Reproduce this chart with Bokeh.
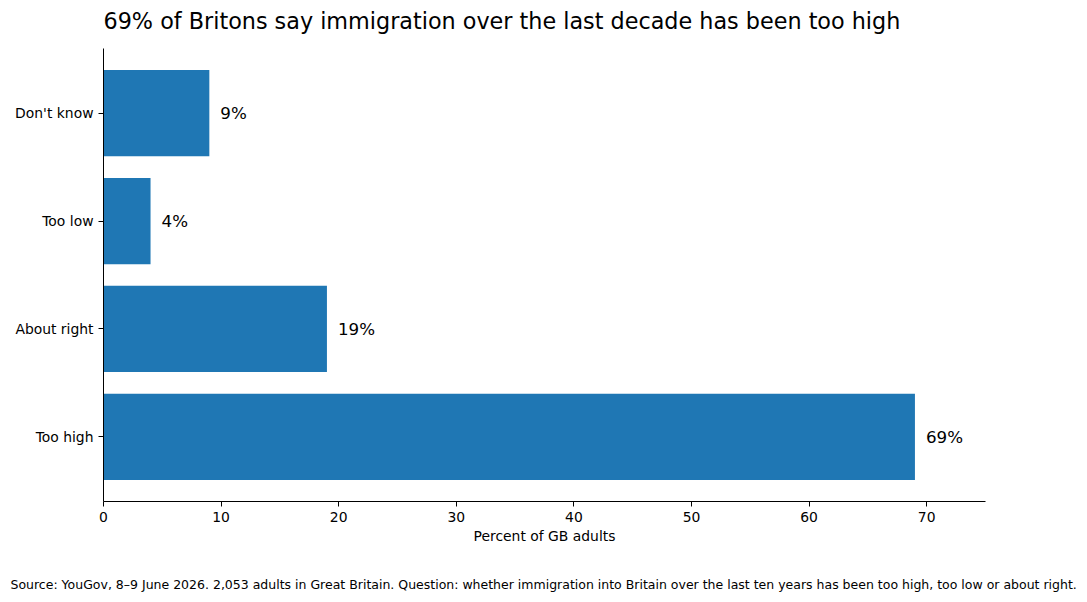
from bokeh.plotting import figure
from bokeh.models import FactorRange, Range1d, Title, ColumnDataSource
from bokeh.embed import file_html
from bokeh.resources import INLINE
from bokeh.core.properties import value

categories = ["Too high", "About right", "Too low", "Don't know"]
percents = [69, 19, 4, 9]
labels = ["69%", "19%", "4%", "9%"]
x_ticks = [0, 10, 20, 30, 40, 50, 60, 70]

title_text = "69% of Britons say immigration over the last decade has been too high"
source_text = ("Source: YouGov, 8\u20139 June 2026. 2,053 adults in Great Britain. Question: whether immigration "
               "into Britain over the last ten years has been too high, too low or about right.")

FONT = "DejaVu Sans"
BLUE = "#1f77b4"

src = ColumnDataSource(dict(cat=categories, val=percents, lab=labels))

p = figure(
    y_range=FactorRange(factors=categories, range_padding=0.05, range_padding_units="percent"),
    x_range=Range1d(0, 75),
    frame_width=882, frame_height=453,
    output_backend="svg", toolbar_location=None,
    min_border_left=103, min_border_right=94, min_border_top=48, min_border_bottom=97,
)

p.hbar(y="cat", right="val", left=0, height=0.8, source=src, color=BLUE, line_color=None)
p.text(x="val", y="cat", text="lab", source=src, x_offset=11,
       text_baseline="middle", text_align="left",
       text_font=value(FONT), text_font_size="16.7px", text_color="black")

p.outline_line_color = None
p.xgrid.grid_line_color = None
p.ygrid.grid_line_color = None

for ax in (p.xaxis, p.yaxis):
    ax.axis_line_color = "black"
    ax.axis_line_width = 1
    ax.major_tick_line_color = "black"
    ax.major_tick_out = 5
    ax.major_tick_in = 0
    ax.minor_tick_line_color = None
    ax.major_label_text_font = FONT
    ax.major_label_text_font_size = "13.9px"
    ax.major_label_text_color = "black"
    ax.major_label_standoff = 5

p.xaxis.ticker = x_ticks
p.xaxis.axis_label = "Percent of GB adults"
p.xaxis.axis_label_text_font = FONT
p.xaxis.axis_label_text_font_size = "13.9px"
p.xaxis.axis_label_text_font_style = "normal"
p.xaxis.axis_label_text_color = "black"
p.xaxis.axis_label_standoff = 3

# spacer between frame and title, then the title itself
p.add_layout(Title(text=" ", text_font_size="1px", standoff=7), "above")
p.add_layout(Title(text=title_text, align="left", standoff=10,
                   text_font=FONT, text_font_size="22.3px", text_font_style="normal",
                   text_color="black"), "above")

# spacer between x axis and source note, then the note
p.add_layout(Title(text=" ", text_font_size="1px", standoff=24), "below")
p.add_layout(Title(text=source_text, align="left", offset=-93, standoff=2,
                   text_font=FONT, text_font_size="12.5px", text_font_style="normal",
                   text_color="black"), "below")

open("out.html", "w").write(file_html(p, INLINE))
